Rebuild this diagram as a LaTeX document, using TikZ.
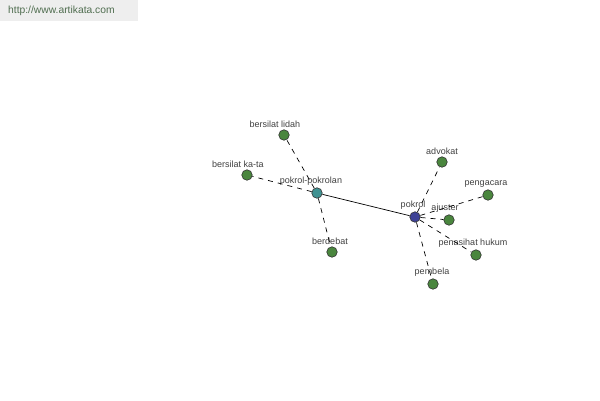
\documentclass[tikz,border=0pt]{standalone}
\usepackage{fontspec}
\setmainfont{Liberation Sans}
\usepackage{tikz}
\usetikzlibrary{positioning}
\definecolor{leafgreen}{RGB}{74,134,62}
\definecolor{hubteal}{RGB}{64,146,146}
\definecolor{hubblue}{RGB}{62,66,150}
\definecolor{wmbg}{RGB}{238,238,238}
\definecolor{wmtext}{RGB}{80,110,80}
\tikzset{
  dot/.style={circle,draw=black!80,line width=0.6pt,minimum size=10.5pt,inner sep=0pt,fill=leafgreen},
  lbl/.style={font=\fontsize{9}{10}\selectfont,text=black!75,inner sep=1pt},
  link/.style={dashed,dash pattern=on 5pt off 5pt,line width=0.7pt},
}
\begin{document}
\begin{tikzpicture}[x=1pt,y=-1pt]
\useasboundingbox (0,0) rectangle (600,400);
\fill[wmbg] (0,0) rectangle (138,21);
\node[font=\fontsize{10.3}{11}\selectfont,text=wmtext,anchor=west,inner sep=0pt] (site) at (8,11) {http://www.artikata.com};

\node[dot,fill=hubteal] (pp) at (317,193) {};
\node[dot,fill=hubblue] (pk) at (415,217) {};
\node[dot] (bl) at (284,135) {};
\node[dot] (bk) at (247,175) {};
\node[dot] (bd) at (332,252) {};
\node[dot] (ad) at (442,162) {};
\node[dot] (pg) at (488,195) {};
\node[dot] (aj) at (449,220) {};
\node[dot] (ph) at (476,255) {};
\node[dot] (pb) at (433,284) {};

\node[lbl,above=1pt of pp,xshift=-6pt] {pokrol-pokrolan};
\node[lbl,above=1pt of pk,xshift=-2pt] {pokrol};
\node[lbl,above=1pt of bl,xshift=-9pt] {bersilat lidah};
\node[lbl,above=1pt of bk,xshift=-9pt] {bersilat ka-ta};
\node[lbl,above=1pt of bd,xshift=-2pt] {berdebat};
\node[lbl,above=1pt of ad] {advokat};
\node[lbl,above=1pt of pg,xshift=-2pt] {pengacara};
\node[lbl,above=1pt of aj,xshift=-4pt] {ajuster};
\node[lbl,above=1pt of ph,xshift=-3pt] {penasihat hukum};
\node[lbl,above=1pt of pb,xshift=-1pt] {pembela};

\draw[line width=0.7pt] (pp)--(pk);
\draw[link] (pp)--(bl);
\draw[link] (pp)--(bk);
\draw[link] (pp)--(bd);
\draw[link] (pk)--(ad);
\draw[link] (pk)--(pg);
\draw[link] (pk)--(aj);
\draw[link] (pk)--(ph);
\draw[link] (pk)--(pb);
\end{tikzpicture}
\end{document}
